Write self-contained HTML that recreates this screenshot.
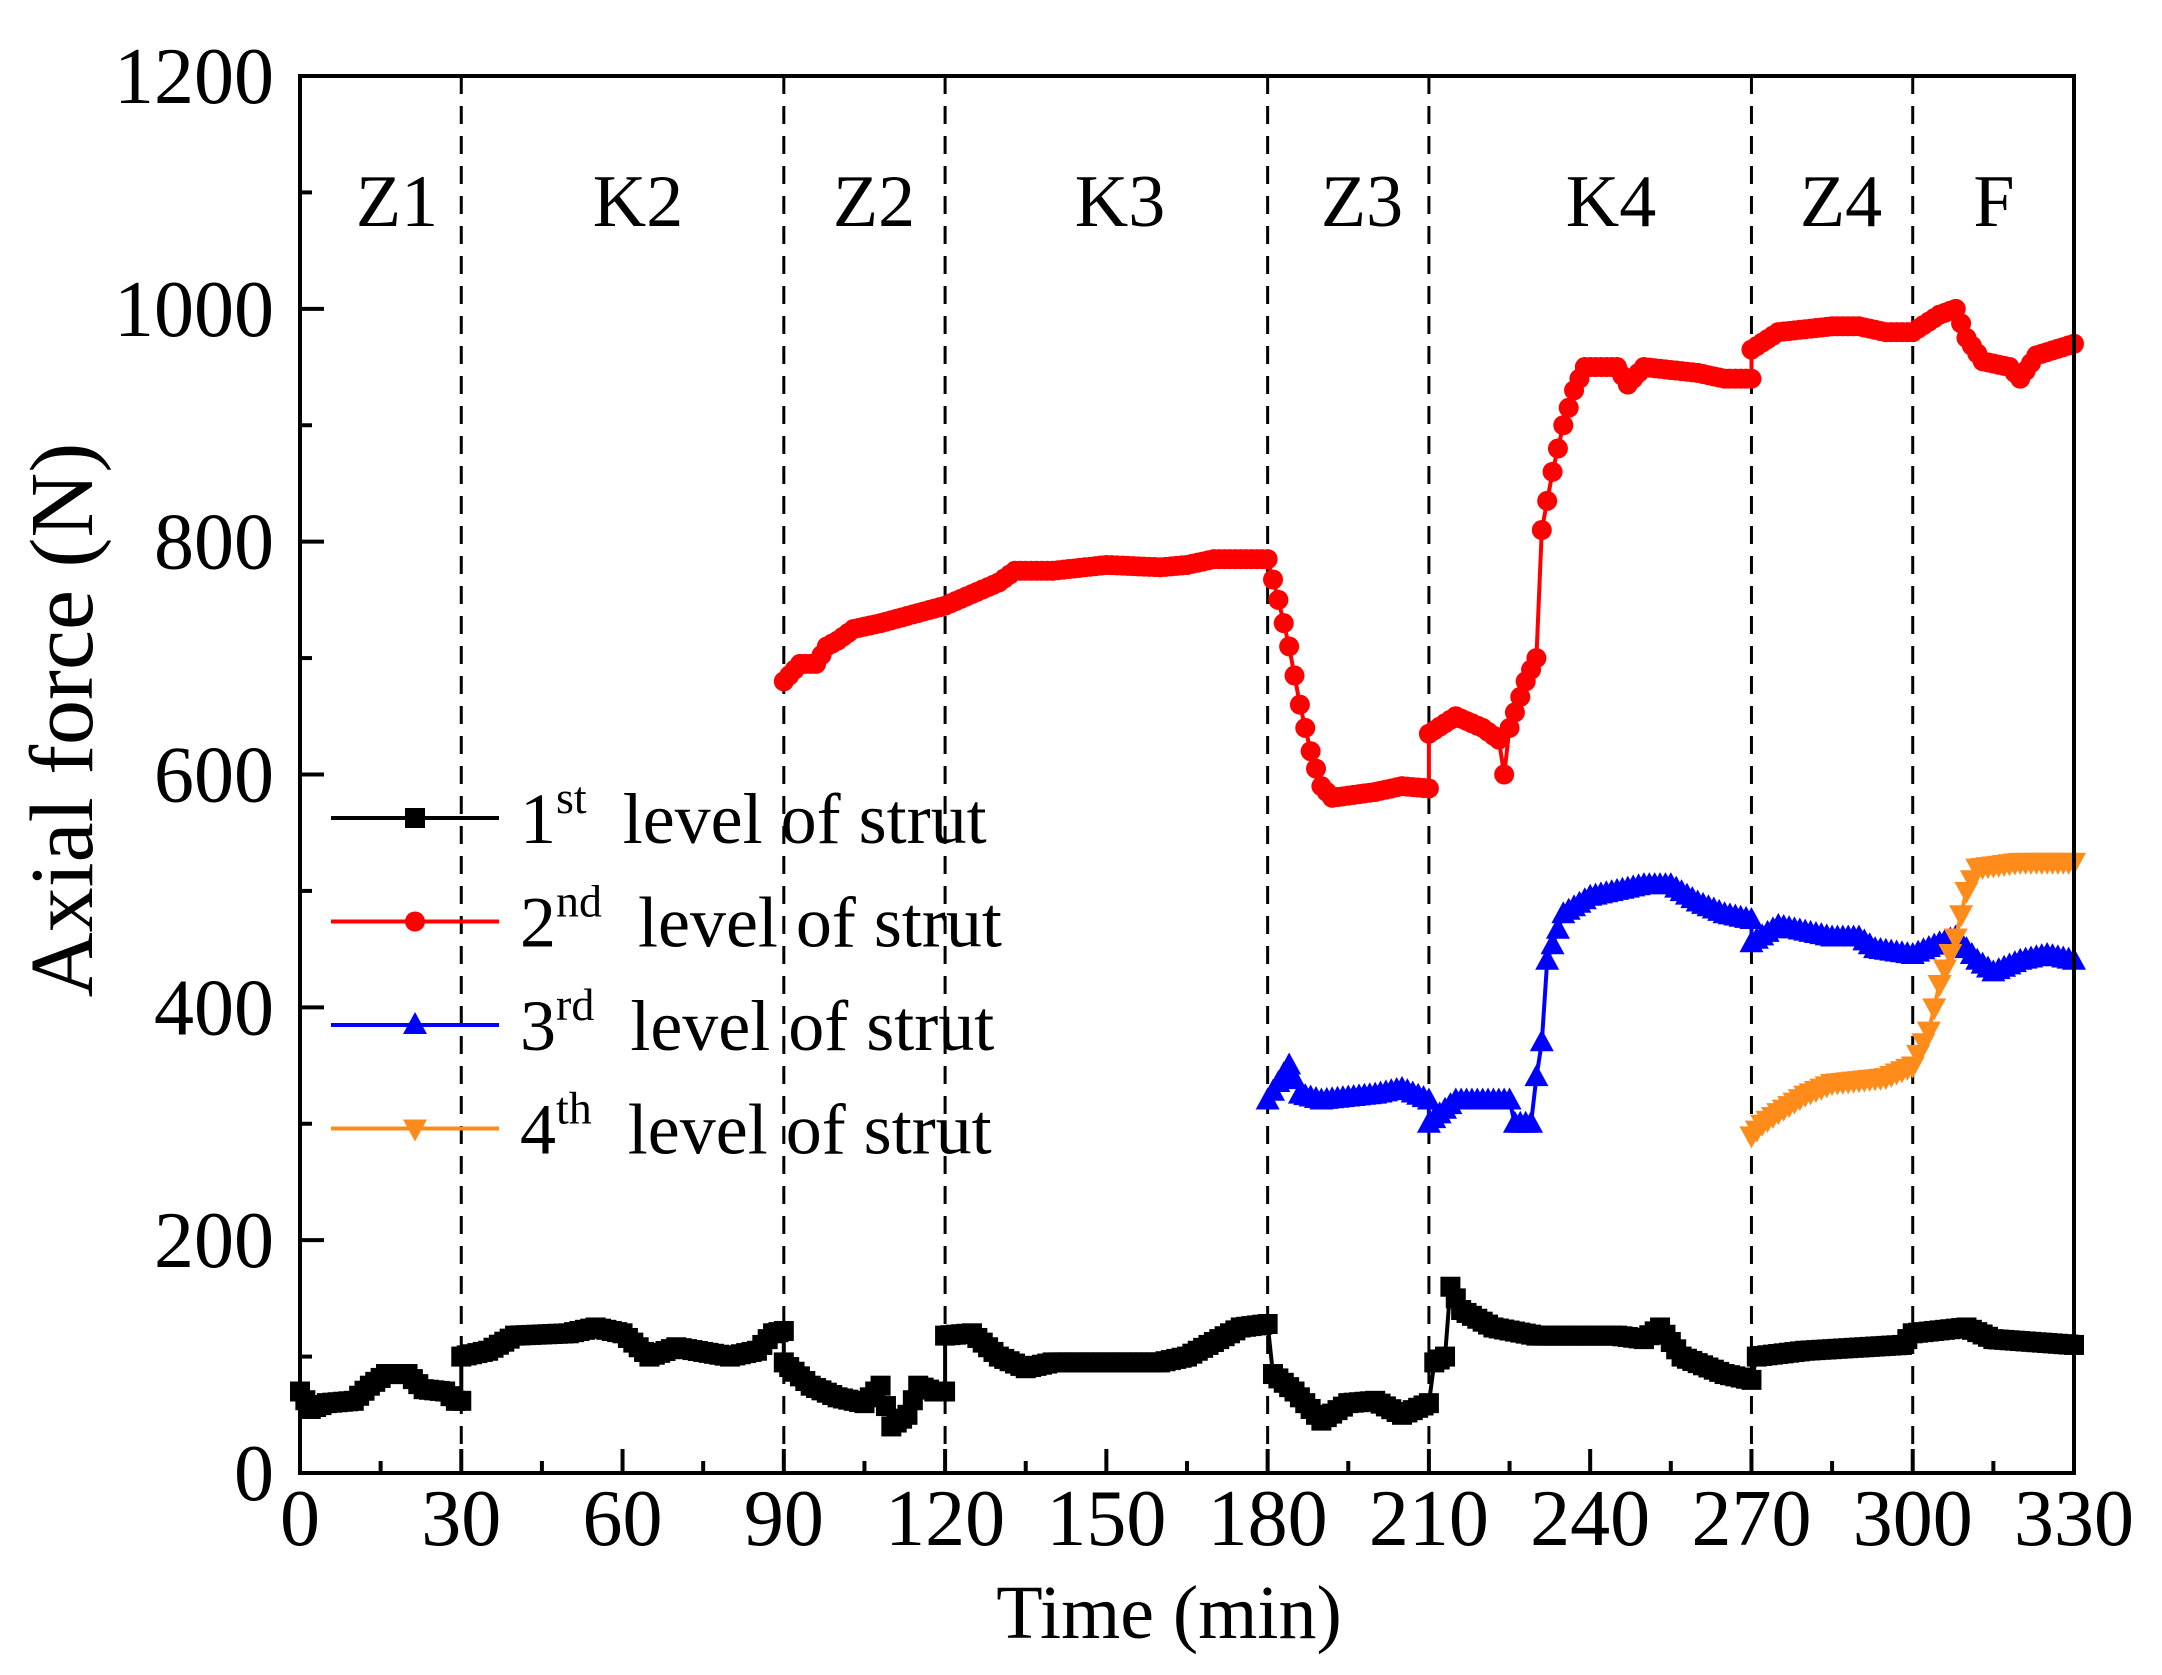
<!DOCTYPE html>
<html><head><meta charset="utf-8"><style>
html,body{margin:0;padding:0;background:#fff;}
svg{display:block;}
text{font-family:"Liberation Serif",serif;fill:#000;}
</style></head><body>
<svg id="s" width="2162" height="1675" viewBox="0 0 2162 1675" xmlns="http://www.w3.org/2000/svg"></svg>
<script>
const S=document.getElementById('s');
const X0=300,X1=2074,Y0=1473,Y1=76;
const X=t=>X0+(X1-X0)*t/330, Y=v=>Y0-(Y0-Y1)*v/1200;
let h='';
[30,90,120,180,210,270,300].forEach(t=>{h+=`<line x1="${X(t)}" y1="${Y1}" x2="${X(t)}" y2="${Y0}" stroke="#000" stroke-width="3" stroke-dasharray="18,12"/>`;});
[["Z1",397],["K2",638],["Z2",874],["K3",1120],["Z3",1362],["K4",1611],["Z4",1841],["F",1994]].forEach(([s,x])=>{h+=`<text x="${x}" y="226" font-size="74" text-anchor="middle">${s}</text>`;});
function ser(pts,col,mk){
  let dense=[];
  for(let i=0;i<pts.length-1;i++){
    const [t0,v0]=pts[i],[t1,v1]=pts[i+1];
    if(t1===t0){dense.push([t0,v0]);continue;}
    for(let t=t0;t<t1;t+=1){dense.push([t,v0+(v1-v0)*(t-t0)/(t1-t0)]);}
  }
  dense.push(pts[pts.length-1]);
  h+=`<polyline fill="none" stroke="${col}" stroke-width="4" points="${dense.map(p=>X(p[0]).toFixed(1)+','+Y(p[1]).toFixed(1)).join(' ')}"/>`;
  dense.forEach(p=>h+=mark(X(p[0]),Y(p[1]),col,mk));
}
function mark(x,y,c,m){
  const r=10;
  if(m==='s')return `<rect x="${x-r}" y="${y-r}" width="${2*r}" height="${2*r}" fill="${c}"/>`;
  if(m==='c')return `<circle cx="${x}" cy="${y}" r="${r}" fill="${c}"/>`;
  if(m==='u')return `<polygon points="${x},${y-r-3} ${x-r-2},${y+r-1} ${x+r+2},${y+r-1}" fill="${c}"/>`;
  return `<polygon points="${x},${y+r+3} ${x-r-2},${y-r+1} ${x+r+2},${y-r+1}" fill="${c}"/>`;
}
const blk=[[0,70],[2,55],[5,60],[10,62],[13,75],[16,85],[20,85],[23,72],[27,70],[29,62],[30,62],[30,100],[35,105],[40,118],[50,120],[55,125],[60,120],[65,100],[70,108],[80,100],[85,105],[88,120],[90,122],[90,95],[95,75],[100,65],[105,60],[108,75],[110,40],[113,50],[115,75],[118,70],[120,70],[120,118],[125,120],[130,100],[135,90],[140,95],[160,95],[165,100],[175,125],[180,128],[181,85],[185,70],[190,45],[195,60],[200,62],[205,50],[210,60],[211,95],[213,100],[214,160],[216,140],[222,125],[230,118],[245,118],[250,115],[253,125],[257,100],[265,85],[270,80],[271,100],[280,105],[298,110],[300,120],[310,125],[315,115],[330,110]];
const red=[[90,680],[93,695],[96,695],[98,710],[100,715],[103,725],[108,730],[112,735],[120,745],[125,755],[130,765],[133,775],[140,775],[150,780],[160,778],[165,780],[170,785],[180,785],[182,750],[184,710],[186,660],[188,620],[190,590],[192,580],[200,585],[205,590],[210,588],[210,635],[215,650],[220,640],[223,630],[224,600],[225,640],[228,680],[230,700],[231,810],[233,860],[235,900],[237,930],[239,950],[245,950],[247,935],[250,950],[260,945],[265,940],[270,940],[270,965],[275,980],[285,985],[290,985],[295,980],[300,980],[305,995],[308,1000],[310,975],[313,955],[318,950],[320,940],[323,960],[330,970]];
const blu=[[180,320],[182,335],[184,350],[186,325],[190,320],[200,325],[205,330],[210,320],[210,300],[215,320],[225,320],[226,300],[229,300],[230,340],[231,370],[232,440],[235,480],[240,495],[250,505],[255,505],[260,490],[265,480],[270,475],[270,455],[275,470],[285,460],[290,460],[293,450],[300,445],[305,455],[308,460],[312,440],[315,430],[320,440],[325,445],[330,440]];
const org=[[270,290],[272,300],[275,310],[280,325],[285,335],[295,340],[300,350],[303,380],[305,420],[308,460],[310,500],[312,520],[320,525],[330,525]];
ser(blk,'#000','s');ser(red,'#f00','c');ser(blu,'#00f','u');ser(org,'#ff8c1a','d');
h+=`<rect x="${X0}" y="${Y1}" width="${X1-X0}" height="${Y0-Y1}" fill="none" stroke="#000" stroke-width="4"/>`;
for(let v=0;v<=1200;v+=100){const y=Y(v),L=v%200?12:24;h+=`<line x1="${X0}" y1="${y}" x2="${X0+L}" y2="${y}" stroke="#000" stroke-width="4"/>`;
 if(v%200===0)h+=`<text x="274" y="${y+27}" font-size="80" text-anchor="end">${v}</text>`;}
for(let t=0;t<=330;t+=15){const x=X(t),L=t%30?12:24;h+=`<line x1="${x}" y1="${Y0}" x2="${x}" y2="${Y0-L}" stroke="#000" stroke-width="4"/>`;
 if(t%30===0)h+=`<text x="${x}" y="1545" font-size="80" text-anchor="middle">${t}</text>`;}
h+=`<text x="1169" y="1638" font-size="76" text-anchor="middle">Time (min)</text>`;
h+=`<text transform="translate(92,720) rotate(-90)" font-size="90" text-anchor="middle">Axial force (N)</text>`;
const lg=[['#000','s','st'],['#f00','c','nd'],['#00f','u','rd'],['#ff8c1a','d','th']];
lg.forEach(([c,m,sfx],i)=>{const y=818+i*103.5;const n=i+1;
 h+=`<line x1="331" y1="${y}" x2="499" y2="${y}" stroke="${c}" stroke-width="4"/>`+mark(415,y,c,m);
 h+=`<text x="520" y="${y+25}" font-size="72" xml:space="preserve">${n}<tspan font-size="46" dy="-30">${sfx}</tspan><tspan dy="30">  level of strut</tspan></text>`;});
S.innerHTML=h;
</script>
</body></html>
